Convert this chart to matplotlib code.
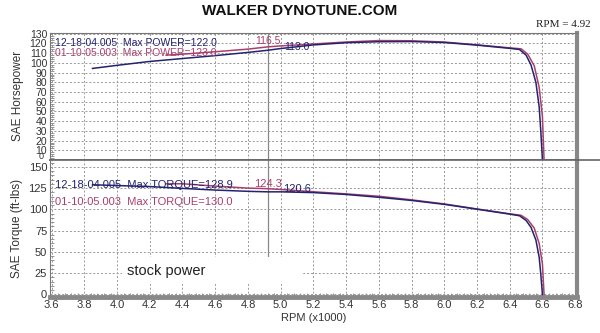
import matplotlib
matplotlib.use('Agg')
import matplotlib.pyplot as plt
from matplotlib.patches import Rectangle
from matplotlib.lines import Line2D
from matplotlib.ticker import MultipleLocator

# run 12-18-04.005 (navy)
rpm_a = [3.85, 4.0, 4.2, 4.4, 4.6, 4.8, 4.92, 5.0, 5.2, 5.4, 5.6, 5.8, 6.0, 6.2, 6.4, 6.46, 6.5, 6.53, 6.56, 6.58, 6.59, 6.6]
hp_a = [94.3, 97.5, 101.5, 104.5, 107.5, 110.8, 113.0, 114.8, 118.5, 120.8, 121.8, 122.0, 121.0, 118.3, 115.0, 113.8, 108.0, 98.0, 80.0, 55.0, 30.0, 0.0]
tq_a = [128.9, 128.0, 126.8, 124.6, 122.7, 121.2, 120.6, 120.6, 119.7, 117.5, 114.2, 110.5, 105.9, 100.2, 94.4, 92.5, 87.0, 79.0, 64.0, 44.0, 24.0, 0.0]

# run 01-10-05.003 (maroon)
rpm_b = [4.3, 4.4, 4.6, 4.8, 4.92, 5.0, 5.2, 5.4, 5.6, 5.8, 6.0, 6.2, 6.4, 6.47, 6.51, 6.55, 6.58, 6.6, 6.61]
hp_b = [108.0, 109.0, 111.5, 114.2, 116.5, 117.5, 119.5, 121.5, 123.0, 122.8, 121.5, 118.6, 115.5, 114.5, 109.0, 97.0, 75.0, 45.0, 0.0]
tq_b = [130.0, 130.1, 127.3, 125.0, 124.3, 123.4, 120.7, 118.2, 115.4, 111.2, 106.4, 100.5, 94.8, 93.0, 88.0, 78.0, 60.0, 36.0, 0.0]

cursor = 4.92
hp_ticks = list(range(10, 131, 10))
tq_ticks = list(range(0, 151, 25))
x_ticks = [3.6 + 0.2 * i for i in range(17)]

navy = '#23236e'
maroon = '#a8406c'
txt = '#333333'

plt.rcParams['font.family'] = ['Liberation Sans', 'DejaVu Sans']

fig = plt.figure(figsize=(6.0, 3.33), dpi=100)
ax1 = fig.add_axes([0.0833, 0.5195, 0.878, 0.382])
ax2 = fig.add_axes([0.0833, 0.108, 0.878, 0.4115])

def style(ax, yt, ylim, minor):
	ax.set_xlim(3.59, 6.81)
	ax.set_ylim(*ylim)
	ax.set_xticks(x_ticks)
	ax.set_yticks(yt)
	ax.xaxis.set_minor_locator(MultipleLocator(0.04))
	ax.yaxis.set_minor_locator(MultipleLocator(minor))
	ax.grid(True, which='major', color='#999999', linestyle=(0, (2, 2)), linewidth=0.7)
	ax.tick_params(which='both', direction='in', color='#888888', labelsize=8, labelcolor=txt, pad=2)
	ax.tick_params(which='major', length=0)
	ax.tick_params(which='minor', length=3, width=0.6)
	ax.tick_params(axis='x', which='minor', top=False)
	for s in ['left', 'top']:
		ax.spines[s].set_color('#777777')
		ax.spines[s].set_linewidth(0.8)
	ax.spines['right'].set_color('#888888')
	ax.spines['right'].set_linewidth(3)
	ax.set_axisbelow(True)

style(ax1, hp_ticks, (0, 131), 2)
style(ax2, tq_ticks, (-3, 158), 5)
ax1.tick_params(axis='x', labelbottom=False)
ax1.tick_params(axis='x', which='minor', bottom=False)
ax1.tick_params(axis='y', labelsize=7.5)
ax1.spines['bottom'].set_color('#666666')
ax1.spines['bottom'].set_linewidth(1.2)
ax2.spines['bottom'].set_color('#888888')
ax2.spines['bottom'].set_linewidth(3.5)
ax2.spines['top'].set_visible(False)

# power
ax1.plot(rpm_b, hp_b, color=maroon, lw=1.1, zorder=3)
ax1.plot(rpm_a, hp_a, color=navy, lw=1.1, zorder=3)
ax1.axvline(cursor, color='#888888', lw=0.9, zorder=2)
ax1.text(3.62, 120.5, '12-18-04.005  Max POWER=122.0', color=navy, fontsize=7.5, va='center', zorder=4)
ax1.text(3.62, 110.5, '01-10-05.003  Max POWER=123.0', color=maroon, fontsize=7.5, va='center', zorder=4)
ax1.text(4.92, 123, '116.5', color=maroon, fontsize=7.5, ha='center', va='center', zorder=4)
ax1.text(5.1, 116, '113.0', color=navy, fontsize=7.5, ha='center', va='center', zorder=4)
ax1.set_ylabel('SAE Horsepower', fontsize=8.5, color=txt, labelpad=4)

# torque
ax2.plot(rpm_b, tq_b, color=maroon, lw=1.1, zorder=3)
ax2.plot(rpm_a, tq_a, color=navy, lw=1.1, zorder=3)
ax2.plot([cursor, cursor], [44, 158], color='#888888', lw=0.9, zorder=2)
ax2.add_patch(Rectangle((4.03, 12), 1.1, 32, facecolor='white', edgecolor='none', zorder=2.5))
ax2.text(4.06, 28, 'stock power', color='#222222', fontsize=10.5, va='center', zorder=4)
ax2.text(3.62, 128.5, '12-18-04.005  Max TORQUE=128.9', color=navy, fontsize=8, va='center', zorder=4)
ax2.text(3.62, 109, '01-10-05.003  Max TORQUE=130.0', color=maroon, fontsize=8, va='center', zorder=4)
ax2.text(4.92, 130, '124.3', color=maroon, fontsize=8, ha='center', va='center', zorder=4)
ax2.text(5.1, 124, '120.6', color=navy, fontsize=8, ha='center', va='center', zorder=4)
ax2.set_ylabel('SAE Torque (ft-lbs)', fontsize=8.5, color=txt, labelpad=4)
ax2.set_xlabel('RPM (x1000)', fontsize=8, color=txt, labelpad=2)

# zero label of the power axis sits squeezed just under the 10
ax1.text(-0.012, 3.5, '0', transform=ax1.get_yaxis_transform(), ha='right', va='center', fontsize=6.5, color=txt)

fig.add_artist(Line2D([0.0833, 1.0], [0.5195, 0.5195], color='#666666', lw=1.2, transform=fig.transFigure))
fig.text(0.5, 0.968, 'WALKER DYNOTUNE.COM', ha='center', va='center', fontsize=11, fontweight='bold', color='#111111')
fig.text(0.985, 0.925, 'RPM = 4.92', ha='right', va='center', fontsize=8, family=['Liberation Serif', 'DejaVu Serif'], color='#222222')

fig.savefig('out.png', dpi=100, facecolor='white')
